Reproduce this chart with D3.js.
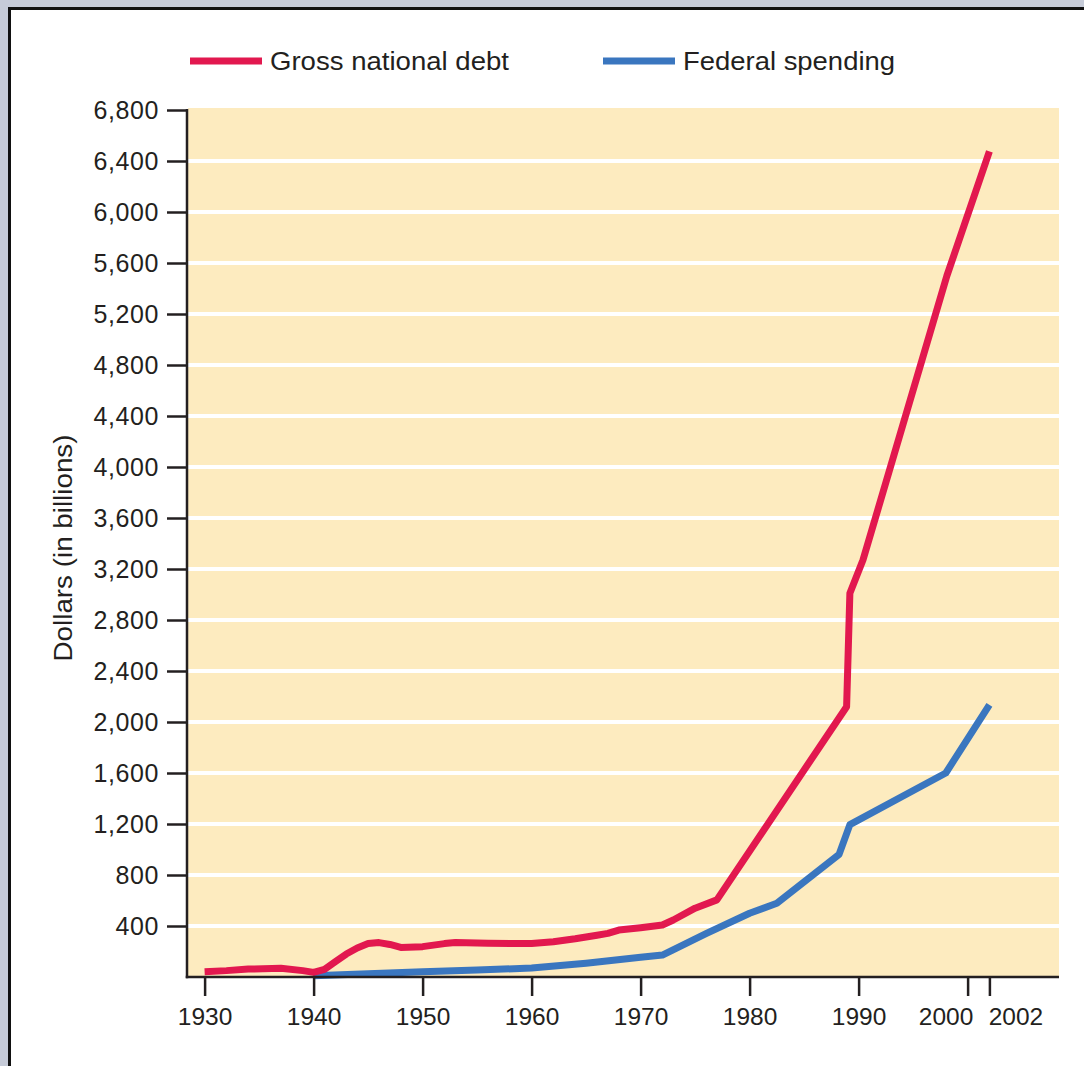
<!DOCTYPE html>
<html>
<head>
<meta charset="utf-8">
<script src="https://cdn.jsdelivr.net/npm/d3@7/dist/d3.min.js"></script>
<style>
  html, body { margin: 0; padding: 0; background: #fff; }
  svg { display: block; }
  text { font-family: "Liberation Sans", Arial, sans-serif; fill: #231f20; }
</style>
</head>
<body>
<svg id="chart" width="1084" height="1066"></svg>
<script>
// ---- data ----
const debtYears  = [1930, 1932, 1934, 1937, 1939, 1940, 1941, 1942, 1943, 1944, 1945, 1946, 1947, 1948, 1950, 1952, 1953, 1956, 1960, 1962, 1964, 1966, 1967, 1968, 1970, 1972, 1973, 1975, 1977, 1988.9, 1989.2, 1990.4, 1998.1, 2002];
const debtValues = [42, 50, 62, 68, 50, 36, 60, 120, 180, 228, 262, 270, 255, 232, 238, 262, 270, 264, 262, 277, 300, 328, 342, 368, 387, 408, 447, 540, 605, 2120, 3010, 3270, 5500, 6475];
const spendYears  = [1940, 1945, 1950, 1955, 1960, 1965, 1970, 1972, 1976, 1980, 1982.5, 1988.2, 1989.2, 1998, 2002];
const spendValues = [10, 25, 42, 55, 70, 108, 155, 172, 340, 500, 578, 960, 1195, 1600, 2135];
const seriesNames = ["Gross national debt", "Federal spending"];
const xTicks = [1930, 1940, 1950, 1960, 1970, 1980, 1990, 2000, 2002];
const yTicks = [400, 800, 1200, 1600, 2000, 2400, 2800, 3200, 3600, 4000, 4400, 4800, 5200, 5600, 6000, 6400, 6800];
const yTitle = "Dollars (in billions)";

(function () {
// ---- layout ----
const svg = d3.select("#chart");
const W = 1084, H = 1066;
const pLeft = 187, pRight = 1059, pTop = 110, pBottom = 977;
const red = "#e2184f", blue = "#3a76bf";
const ink = "#231f20";

// frame
svg.append("rect").attr("x", 0).attr("y", 0).attr("width", W).attr("height", H).attr("fill", "#fff");
svg.append("rect").attr("x", 0).attr("y", 0).attr("width", W).attr("height", 8).attr("fill", "#c6cbd8");
svg.append("rect").attr("x", 0).attr("y", 0).attr("width", 8).attr("height", H).attr("fill", "#c6cbd8");
svg.append("rect").attr("x", 8).attr("y", 7).attr("width", W - 8).attr("height", 3).attr("fill", "#111");
svg.append("rect").attr("x", 8).attr("y", 7).attr("width", 3).attr("height", H - 7).attr("fill", "#111");

const x = d3.scaleLinear().domain([1928.385, 2008.385]).range([pLeft, pRight]);
const y = d3.scaleLinear().domain([0, 6800]).range([pBottom, pTop]);

// plot background
svg.append("rect")
  .attr("x", pLeft + 1).attr("y", y(6800) - 2)
  .attr("width", pRight - pLeft - 1).attr("height", pBottom - y(6800) + 2)
  .attr("fill", "#fdebbf");

// gridlines
svg.append("g").selectAll("line")
  .data(yTicks.filter(d => d < 6800))
  .join("line")
  .attr("x1", pLeft + 1).attr("x2", pRight)
  .attr("y1", d => y(d)).attr("y2", d => y(d))
  .attr("stroke", "#fff").attr("stroke-width", 4);

// lines
const line = d3.line().x(d => x(d[0])).y(d => y(d[1])).curve(d3.curveLinear);
const debt = debtYears.map((yr, i) => [yr, debtValues[i]]);
const spend = spendYears.map((yr, i) => [yr, spendValues[i]]);

svg.append("path").datum(spend).attr("d", line)
  .attr("fill", "none").attr("stroke", blue).attr("stroke-width", 7)
  .attr("stroke-linejoin", "round");
svg.append("path").datum(debt).attr("d", line)
  .attr("fill", "none").attr("stroke", red).attr("stroke-width", 7)
  .attr("stroke-linejoin", "round");

// y axis
const yAxis = svg.append("g")
  .attr("transform", `translate(${pLeft},0)`)
  .call(d3.axisLeft(y).tickValues(yTicks).tickSize(20).tickPadding(8)
        .tickFormat(d3.format(",")));
yAxis.select(".domain").remove();
yAxis.selectAll(".tick line").attr("stroke", ink).attr("stroke-width", 2.5);
yAxis.selectAll(".tick text").style("font-size", "25px")
  .style("letter-spacing", "0.6px")
  .style("font-family", '"Liberation Sans", Arial, sans-serif').attr("fill", ink);
svg.append("line").attr("x1", pLeft).attr("x2", pLeft)
  .attr("y1", y(6800) - 1).attr("y2", pBottom + 1.25)
  .attr("stroke", ink).attr("stroke-width", 2.5);

// x axis
const xAxis = svg.append("g")
  .attr("transform", `translate(0,${pBottom})`)
  .call(d3.axisBottom(x).tickValues(xTicks).tickSize(19).tickPadding(12)
        .tickFormat(d3.format("d")));
xAxis.select(".domain").remove();
xAxis.selectAll(".tick line").attr("stroke", ink).attr("stroke-width", 2.5);
xAxis.selectAll(".tick text").style("font-size", "24.5px")
  .style("font-family", '"Liberation Sans", Arial, sans-serif').attr("fill", ink)
  .attr("dx", d => d === 2000 ? -22 : (d === 2002 ? 26 : 0));
svg.append("line").attr("x1", pLeft - 1.25).attr("x2", pRight)
  .attr("y1", pBottom).attr("y2", pBottom)
  .attr("stroke", ink).attr("stroke-width", 2.5);

// y title
svg.append("text")
  .attr("transform", `translate(72,548) rotate(-90)`)
  .attr("text-anchor", "middle")
  .attr("textLength", 227).attr("lengthAdjust", "spacingAndGlyphs")
  .style("font-size", "25px")
  .text(yTitle);

// legend
const legend = [
  { name: seriesNames[0], color: red, x0: 190, tx: 270, tw: 239 },
  { name: seriesNames[1], color: blue, x0: 603, tx: 683, tw: 212 }
];
const lg = svg.append("g");
legend.forEach(l => {
  lg.append("line").attr("x1", l.x0).attr("x2", l.x0 + 72)
    .attr("y1", 61).attr("y2", 61)
    .attr("stroke", l.color).attr("stroke-width", 7);
  lg.append("text").attr("x", l.tx).attr("y", 70)
    .attr("textLength", l.tw).attr("lengthAdjust", "spacingAndGlyphs")
    .style("font-size", "26px")
    .text(l.name);
});
})();
</script>
</body>
</html>
